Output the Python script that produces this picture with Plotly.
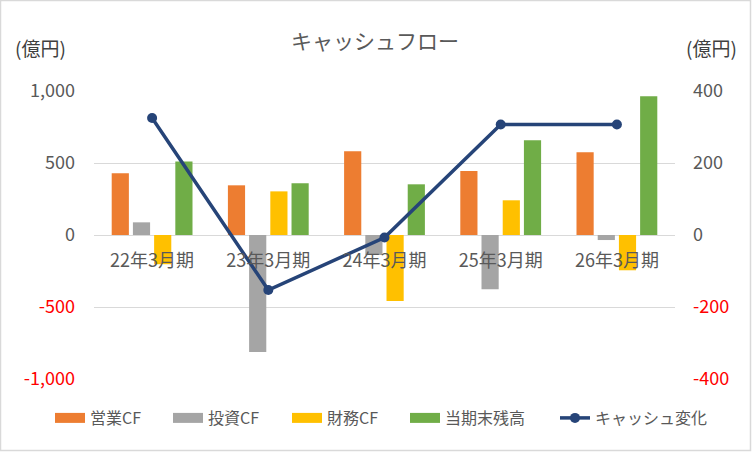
import plotly.graph_objects as go

categories = ["22年3月期", "23年3月期", "24年3月期", "25年3月期", "26年3月期"]
operating_cf = [428, 345, 581, 444, 574]
investing_cf = [88, -812, -139, -377, -35]
financing_cf = [-203, 303, -458, 241, -245]
ending_balance = [511, 359, 352, 658, 963]
cash_change = [325, -153, -7, 307, 307]

left_ticks = [-1000, -500, 0, 500, 1000]
right_ticks = [-400, -200, 0, 200, 400]


def fmt(v):
    s = f"{v:,}"
    if v < 0:
        return f'<span style="color:#FF0000">{s}</span>'
    return s


FONT = "Noto Sans CJK JP"
TXT = "#595959"

L, R, T, B = 94, 77, 91, 73
W, H = 752, 452
pw, ph = W - L - R, H - T - B

# legend symbol left edges (pixels) for each entry
legend_left_px = [52, 170, 289, 407, 557]
legend_ids = ["legend", "legend2", "legend3", "legend4", "legend5"]

fig = go.Figure()
bar_specs = [
    ("営業CF", operating_cf, "#ED7D31"),
    ("投資CF", investing_cf, "#A5A5A5"),
    ("財務CF", financing_cf, "#FFC000"),
    ("当期末残高", ending_balance, "#70AD47"),
]
for name, vals, col in bar_specs:
    fig.add_trace(go.Bar(x=categories, y=vals, name=name, marker_color=col,
                         marker_line_width=0, yaxis="y", showlegend=False))
# legend entries drawn as wide rectangles
for i, (name, vals, col) in enumerate(bar_specs):
    fig.add_trace(go.Scatter(x=[None], y=[None], name=name, mode="lines",
                             line=dict(color=col, width=12), yaxis="y",
                             legend=legend_ids[i]))

fig.add_trace(go.Scatter(x=categories, y=cash_change, name="キャッシュ変化",
                         mode="lines+markers", yaxis="y2",
                         line=dict(color="#264478", width=3.5),
                         marker=dict(color="#264478", size=10),
                         legend=legend_ids[4]))

legend_common = dict(orientation="h", xanchor="left", yanchor="middle",
                     y=(H - B - 418) / ph, font=dict(size=16, color=TXT),
                     bgcolor="rgba(0,0,0,0)", borderwidth=0)
legend_layout = {}
for lid, px in zip(legend_ids, legend_left_px):
    legend_layout[lid] = dict(legend_common, x=(px - 2 - L) / pw)

fig.update_layout(
    width=W, height=H,
    margin=dict(l=L, r=R, t=T, b=B, autoexpand=False),
    paper_bgcolor="white", plot_bgcolor="white",
    font=dict(family=FONT, color=TXT, size=15),
    barmode="group", bargap=0.27, bargroupgap=0.19,
    showlegend=True,
    xaxis=dict(anchor="free", position=0.5, showgrid=False, showline=False,
               ticks="", tickfont=dict(size=18, color=TXT), ticklabelstandoff=13),
    yaxis=dict(range=[-1000, 1000], tickvals=left_ticks,
               ticktext=[fmt(v) for v in left_ticks],
               showgrid=True, gridcolor="#D9D9D9", gridwidth=1,
               zeroline=False, showline=False, ticks="",
               tickfont=dict(size=18, color=TXT), ticklabelstandoff=18),
    yaxis2=dict(range=[-400, 400], tickvals=right_ticks,
                ticktext=[fmt(v) for v in right_ticks],
                overlaying="y", side="right", showgrid=False, zeroline=False,
                showline=False, ticks="",
                tickfont=dict(size=18, color=TXT), ticklabelstandoff=17),
    title=dict(text="キャッシュフロー", x=375 / W, xanchor="center",
               y=1 - 42 / H, yanchor="middle",
               font=dict(size=21, color=TXT, family=FONT)),
    **legend_layout,
)

fig.add_annotation(text="(億円)", xref="paper", yref="paper",
                   x=(40 - L) / pw, y=(H - B - 47) / ph, showarrow=False,
                   xanchor="center", yanchor="middle",
                   font=dict(size=19, color="#404040", family=FONT))
fig.add_annotation(text="(億円)", xref="paper", yref="paper",
                   x=(711 - L) / pw, y=(H - B - 47) / ph, showarrow=False,
                   xanchor="center", yanchor="middle",
                   font=dict(size=19, color="#404040", family=FONT))

fig.add_shape(type="rect", xref="paper", yref="paper",
              x0=(0.5 - L) / pw, x1=(W - 1.5 - L) / pw,
              y0=(H - B - (H - 1.5)) / ph, y1=(H - B - 0.5) / ph,
              line=dict(color="#D9D9D9", width=1.5), fillcolor="rgba(0,0,0,0)",
              layer="below")

fig.write_html("out.html", config={"displayModeBar": False},
               post_script="document.body.style.margin='0px';")
